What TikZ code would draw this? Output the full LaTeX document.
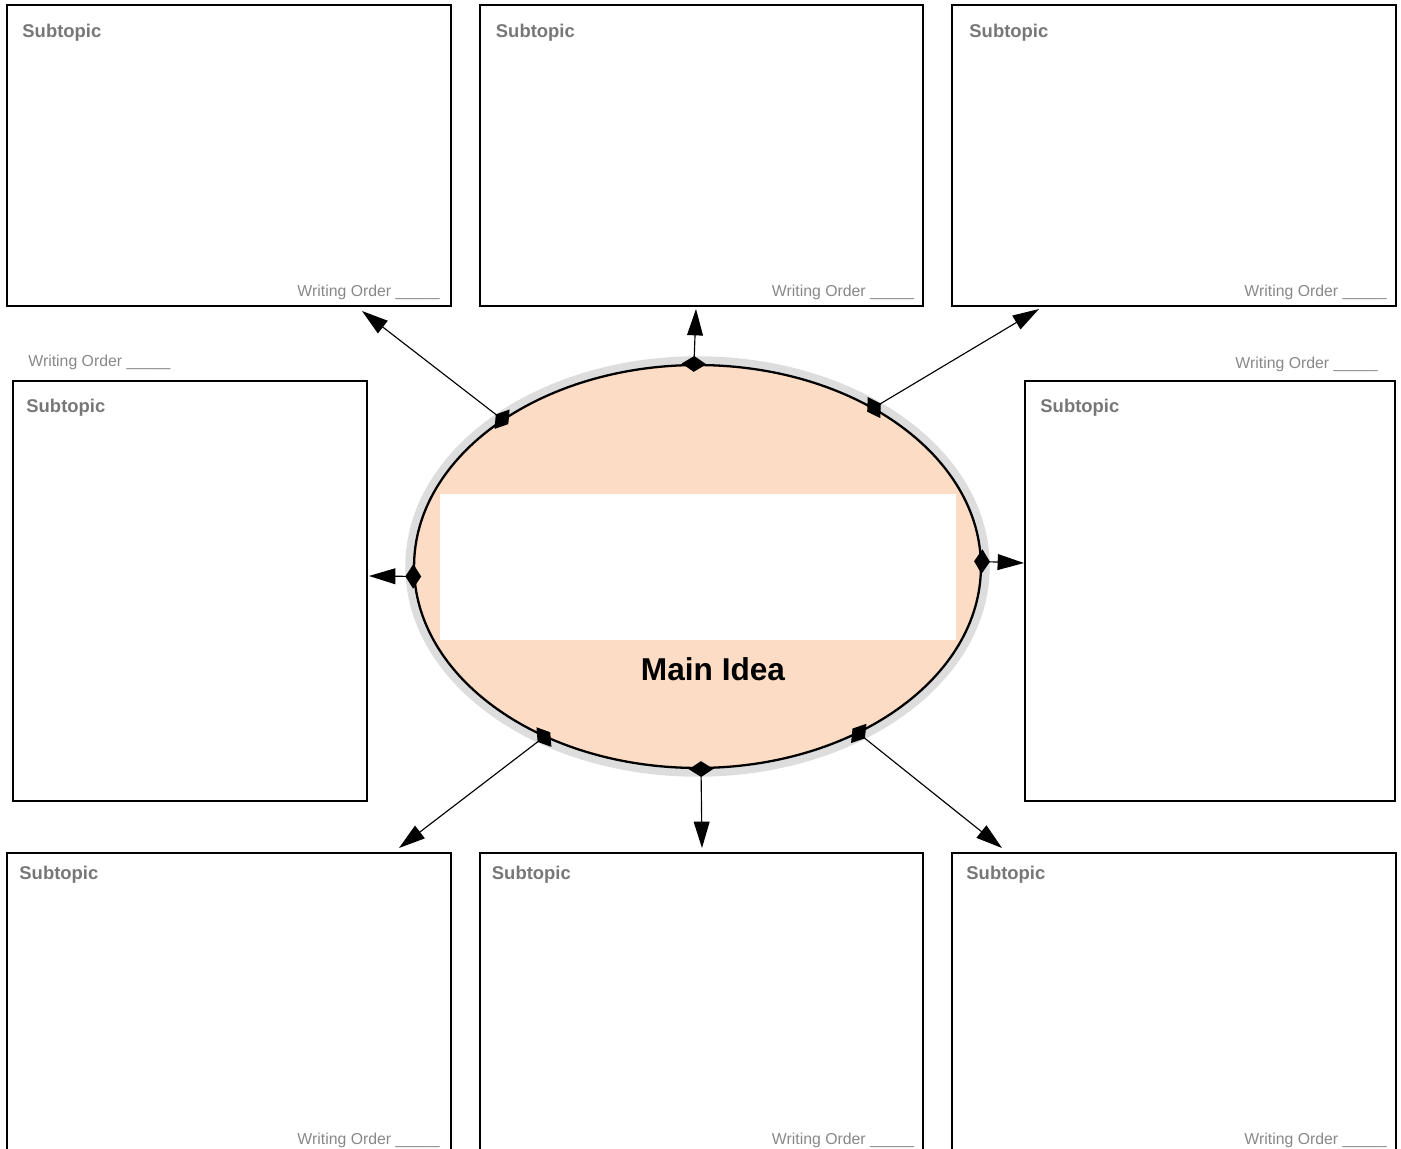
\documentclass[tikz,border=0pt]{standalone}
\usepackage{fontspec}
\setmainfont{Liberation Sans}
\usepackage{tikz}
\usetikzlibrary{calc, arrows.meta, shapes.geometric}
\definecolor{peach}{RGB}{253,220,197}
\definecolor{ringgray}{RGB}{221,221,221}
\definecolor{lblgray}{RGB}{119,119,119}
\definecolor{ordgray}{RGB}{136,136,136}

\begin{document}
\begin{tikzpicture}[x=0.02cm, y=-0.02cm]
    \tikzset{
      subbox/.style={
        draw,
        line width=1.1pt,
        rectangle,
        inner sep=0pt,
        minimum width=8.88cm,
        minimum height=6.02cm,
      },
      sidebox/.style={
        subbox,
        minimum height=8.4cm,
      },
      subtitle/.style={
        anchor=base west,
        inner sep=0pt,
        text=lblgray,
        font=\bfseries\fontsize{10.5}{12}\selectfont,
      },
      order/.style={
        inner sep=0pt,
        text=ordgray,
        font=\fontsize{9}{11}\selectfont,
      },
      link/.style={
        line width=0.65pt,
        shorten <=-4.5pt,
        {Diamond[length=9pt,width=14pt]}-{Triangle[length=15pt,width=9pt]},
      }
    }
    \useasboundingbox (0,0) rectangle (1401,1149);
    \clip (0,0) rectangle (1401,1149);

    % subtopic boxes
    \node[subbox] (topL) at (229,155.5) {};
    \node[subbox] (topM) at (701.5,155.5) {};
    \node[subbox] (topR) at (1174,155.5) {};
    \node[sidebox, minimum width=7.08cm] (midL) at (190,591) {};
    \node[sidebox, minimum width=7.4cm] (midR) at (1210,591) {};
    \node[subbox] (botL) at (229,1003.5) {};
    \node[subbox] (botM) at (701.5,1003.5) {};
    \node[subbox] (botR) at (1174,1003.5) {};

    \node[subtitle] at ($(topL.north west)+(16,33)$) {Subtopic};
    \node[subtitle] at ($(topM.north west)+(17,33)$) {Subtopic};
    \node[subtitle] at ($(topR.north west)+(18,33)$) {Subtopic};
    \node[subtitle] at ($(midL.north west)+(14,32)$) {Subtopic};
    \node[subtitle] at ($(midR.north west)+(16,32)$) {Subtopic};
    \node[subtitle] at ($(botL.north west)+(13,27)$) {Subtopic};
    \node[subtitle] at ($(botM.north west)+(13,27)$) {Subtopic};
    \node[subtitle] at ($(botR.north west)+(15,27)$) {Subtopic};

    \node[order, anchor=base east] at ($(topL.south east)+(-12,-10)$) {Writing Order \_\_\_\_\_};
    \node[order, anchor=base east] at ($(topM.south east)+(-10,-10)$) {Writing Order \_\_\_\_\_};
    \node[order, anchor=base east] at ($(topR.south east)+(-10,-10)$) {Writing Order \_\_\_\_\_};
    \node[order, anchor=base west] at ($(midL.north west)+(16,-14)$) {Writing Order \_\_\_\_\_};
    \node[order, anchor=base east] at ($(midR.north east)+(-18,-12)$) {Writing Order \_\_\_\_\_};
    \node[order, anchor=base east] at ($(botL.south east)+(-12,-10)$) {Writing Order \_\_\_\_\_};
    \node[order, anchor=base east] at ($(botM.south east)+(-10,-10)$) {Writing Order \_\_\_\_\_};
    \node[order, anchor=base east] at ($(botR.south east)+(-10,-10)$) {Writing Order \_\_\_\_\_};

    % main idea
    \node[ellipse, draw, line width=1.3pt, fill=peach, inner sep=0pt,
          minimum width=11.34cm, minimum height=8.06cm,
          preaction={draw=ringgray, line width=10pt}] (main) at (697.5,566.5) {};
    \node[fill=white, inner sep=0pt, minimum width=10.32cm, minimum height=2.92cm] (blank) at (698,567) {};
    \node[font=\bfseries\fontsize{18}{22}\selectfont, inner sep=0pt] (idea) at (713,669) {Main Idea};

    % arrow ends
    \coordinate (e1) at (362,311);
    \coordinate (e2) at (696,309);
    \coordinate (e3) at (1039,309);
    \coordinate (e4) at (369,576);
    \coordinate (e5) at (1024,563);
    \coordinate (e6) at (399,848);
    \coordinate (e7) at (702,848);
    \coordinate (e8) at (1002,848);

    \path[link]
        (main.143)   edge (e1)
        (main.91)    edge (e2)
        (main.42)    edge (e3)
        (main.182)   edge (e4)
        (main.1)     edge (e5)
        (main.228)   edge (e6)
        (main.271.3) edge (e7)
        (main.314)   edge (e8);
\end{tikzpicture}
\end{document}
